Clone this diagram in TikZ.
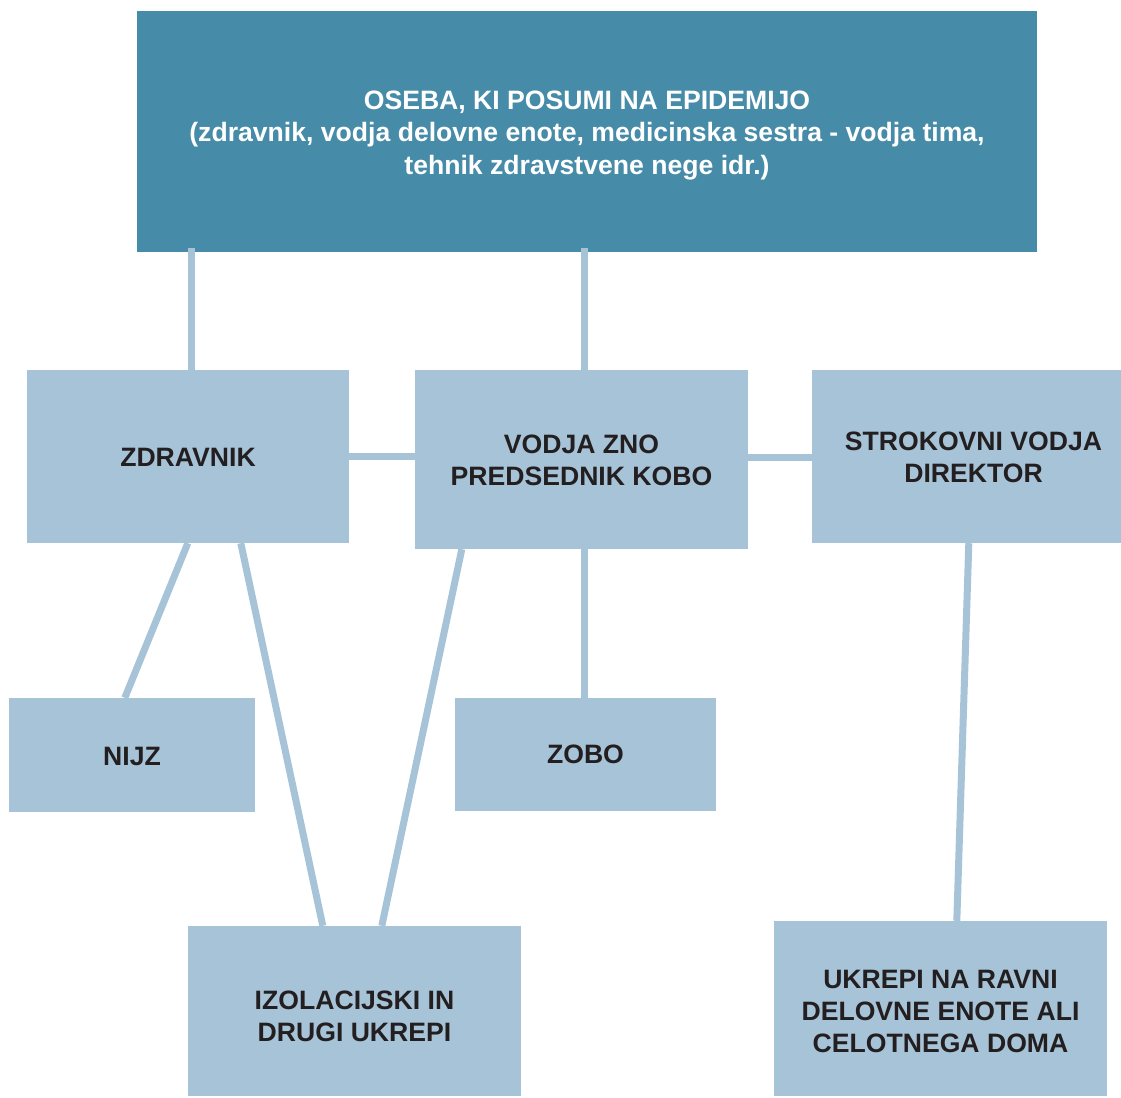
\documentclass[tikz,border=0pt]{standalone}
\usepackage{fontspec}
\setmainfont{Liberation Sans}
\usetikzlibrary{calc}
\definecolor{topblue}{HTML}{468BA7}
\definecolor{lightblue}{HTML}{A6C3D8}
\definecolor{txt}{HTML}{231F20}
\tikzset{
  lbox/.style={fill=lightblue, draw=none, inner sep=0pt},
  ltext/.style={align=center, inner sep=0pt,
    font=\fontsize{26.6}{32}\selectfont\bfseries, text=txt},
  conn/.style={draw=lightblue, line width=7pt},
}
\begin{document}
\begin{tikzpicture}[x=1pt,y=-1pt]
\useasboundingbox (0,0) rectangle (1121,1097);
\node[fill=topblue, inner sep=0pt, minimum width=900pt, minimum height=241pt,
  label={[align=center, inner sep=0pt, text=white, font=\fontsize{26.6}{32.5}\selectfont\bfseries, yshift=-4pt]center:{OSEBA, KI POSUMI NA EPIDEMIJO\\(zdravnik, vodja delovne enote, medicinska sestra - vodja tima,\\tehnik zdravstvene nege idr.)}}] (top) at (587,131.5) {};
\node[lbox, minimum width=322pt, minimum height=173pt,
  label={[ltext, yshift=-1pt]center:ZDRAVNIK}] (zdr) at (188,456.5) {};
\node[lbox, minimum width=333pt, minimum height=179pt,
  label={[ltext, yshift=-1pt]center:{VODJA ZNO\\PREDSEDNIK KOBO}}] (vod) at (581.5,459.5) {};
\node[lbox, minimum width=309pt, minimum height=173pt,
  label={[ltext, yshift=-1pt, xshift=7pt]center:{STROKOVNI VODJA\\DIREKTOR}}] (str) at (966.5,456.5) {};
\node[lbox, minimum width=246pt, minimum height=114pt,
  label={[ltext, yshift=-1pt]center:NIJZ}] (nijz) at (132,755) {};
\node[lbox, minimum width=261pt, minimum height=113pt,
  label={[ltext]center:ZOBO}] (zobo) at (585.5,754.5) {};
\node[lbox, minimum width=333pt, minimum height=170pt,
  label={[ltext, yshift=-5pt]center:{IZOLACIJSKI IN\\DRUGI UKREPI}}] (izo) at (354.5,1011) {};
\node[lbox, minimum width=333pt, minimum height=175pt,
  label={[ltext, yshift=-3pt]center:{UKREPI NA RAVNI\\DELOVNE ENOTE ALI\\CELOTNEGA DOMA}}] (ukr) at (940.5,1008.5) {};
% connectors
\draw[conn] ($(top.south west)+(55,-4)$) -- ($(zdr.north west)+(165,0)$);
\draw[conn] ($(top.south west)+(448,-4)$) -- ($(vod.north west)+(170,0)$);
\draw[conn] ($(zdr.north east)+(0,87)$) -- ($(vod.north west)+(0,87)$);
\draw[conn] ($(vod.north east)+(0,88)$) -- ($(str.north west)+(0,88)$);
\draw[conn] ($(zdr.south west)+(161,0)$) -- ($(nijz.north west)+(116,0)$);
\draw[conn] ($(zdr.south west)+(214,0)$) -- ($(izo.north west)+(135,0)$);
\draw[conn] ($(vod.south west)+(47,0)$) -- ($(izo.north west)+(194,0)$);
\draw[conn] ($(vod.south west)+(170,0)$) -- ($(zobo.north west)+(130,0)$);
\draw[conn] ($(str.south west)+(157,0)$) -- ($(ukr.north west)+(183,0)$);
\end{tikzpicture}
\end{document}
